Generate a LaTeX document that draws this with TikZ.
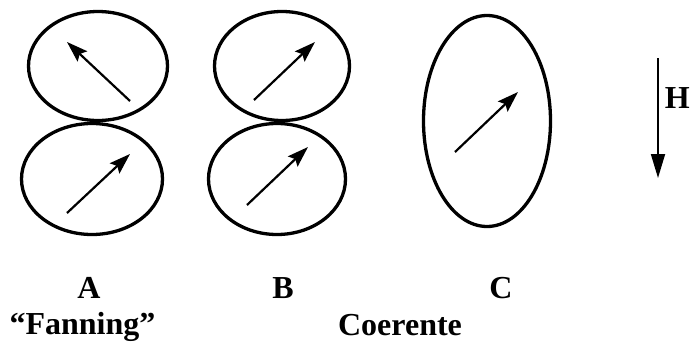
\documentclass[tikz,border=0pt]{standalone}
\usepackage{fontspec}
\setmainfont{Liberation Serif}
\usetikzlibrary{shapes.geometric,arrows.meta}
\begin{document}
\begin{tikzpicture}[x=1pt,y=-1pt,
  grain/.style={draw, ellipse, line width=3.3pt, inner sep=0pt, outer sep=0pt},
  moment/.style={line width=2.2pt, -{Stealth[length=21pt,width=14pt,inset=3.5pt]}},
  field/.style={line width=1.8pt, -{Triangle[length=24pt,width=14pt]}},
  lbl/.style={inner sep=0pt, anchor=base, font=\fontsize{32}{32}\selectfont\bfseries}]
\useasboundingbox[fill=white] (0,0) rectangle (691,343);
% A
\node[grain, minimum width=139pt, minimum height=109pt] (at) at (98,66) {};
\node[grain, minimum width=141pt, minimum height=111pt] (ab) at (92,179) {};
\coordinate (at1) at (130,101); \coordinate (at2) at (67,42);
\coordinate (ab1) at (67,213); \coordinate (ab2) at (130,154);
\draw[moment] (at1) -- (at2);
\draw[moment] (ab1) -- (ab2);
% B
\node[grain, minimum width=135pt, minimum height=109pt] (bt) at (282,66) {};
\node[grain, minimum width=137pt, minimum height=111pt] (bb) at (277,179) {};
\coordinate (bt1) at (254,100); \coordinate (bt2) at (315,42);
\coordinate (bb1) at (247,205); \coordinate (bb2) at (308,147);
\draw[moment] (bt1) -- (bt2);
\draw[moment] (bb1) -- (bb2);
% C
\node[grain, minimum width=127pt, minimum height=211pt] (c) at (487,121) {};
\coordinate (c1) at (455,152); \coordinate (c2) at (518,92);
\draw[moment] (c1) -- (c2);
% H
\coordinate (h1) at (658,58); \coordinate (h2) at (658,178);
\draw[field] (h1) -- (h2);
\node[inner sep=0pt, anchor=east, font=\fontsize{32}{32}\selectfont\bfseries] (h) at (690,98) {H};
% labels
\node[lbl] (la) at (89,298) {A};
\node[lbl] (lb) at (283,298) {B};
\node[lbl] (lc) at (501,298) {C};
\node[lbl] (lf) at (82.5,334) {“Fanning”};
\node[lbl] (lco) at (400,335) {Coerente};
\end{tikzpicture}
\end{document}
